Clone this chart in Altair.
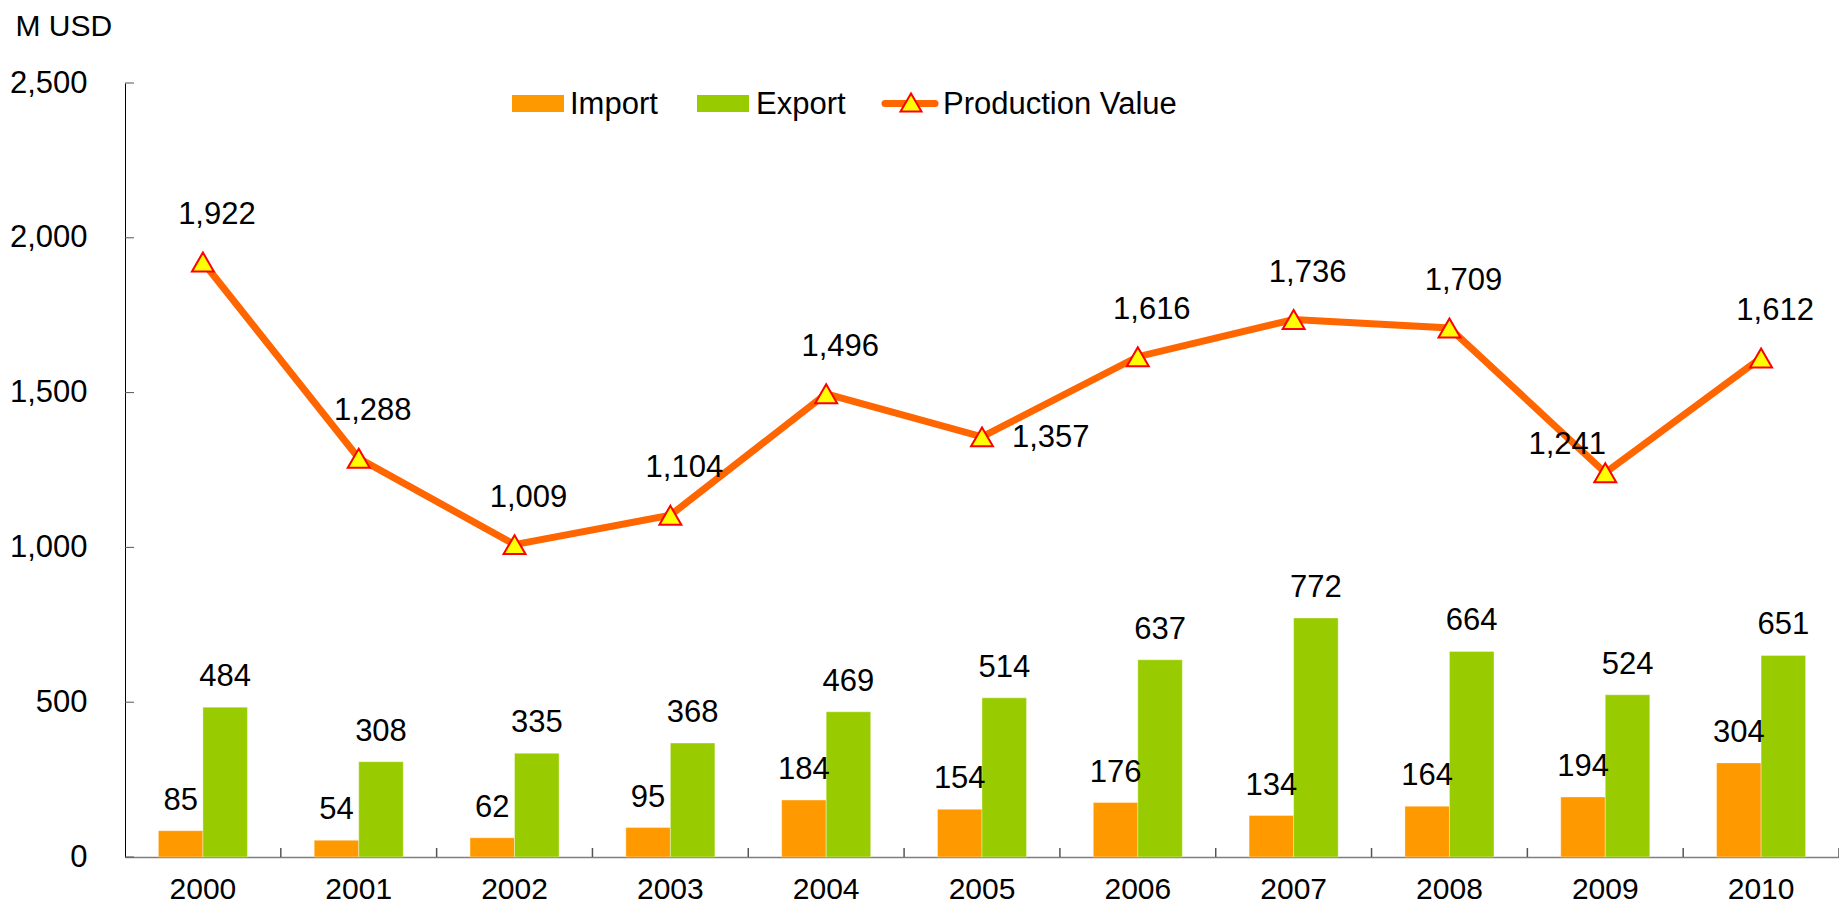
import altair as alt
import pandas as pd

# ---- data ----
years = ["2000", "2001", "2002", "2003", "2004", "2005", "2006", "2007", "2008", "2009", "2010"]
imports = [85, 54, 62, 95, 184, 154, 176, 134, 164, 194, 304]
exports = [484, 308, 335, 368, 469, 514, 637, 772, 664, 524, 651]
production = [1922, 1288, 1009, 1104, 1496, 1357, 1616, 1736, 1709, 1241, 1612]
series_names = ["Import", "Export"]
y_ticks = [0, 500, 1000, 1500, 2000, 2500]
legend_labels = ["Import", "Export", "Production Value"]

bars_df = pd.DataFrame({
    "year": years * 2,
    "series": [series_names[0]] * len(years) + [series_names[1]] * len(years),
    "value": imports + exports,
})
prod_df = pd.DataFrame({"year": years, "value": production})
ytick_df = pd.DataFrame({"value": y_ticks})
legend_df = pd.DataFrame({"label": legend_labels})

W, H = 1714, 774
FONT = "Liberation Sans"
FS = 31

c_import, c_export = "#FF9900", "#99CC00"
c_line = "#FF6600"

yscale = alt.Scale(domain=[0, 2500], nice=False, zero=True)
xscale = alt.Scale(paddingInner=0, paddingOuter=0)

x_axis = alt.Axis(title=None, labelAngle=0, ticks=False, tickSize=0, labelPadding=17,
                  labelBaseline="top", labelFontSize=30, labelFont=FONT, labelColor="black",
                  domainColor="#7f7f7f", domainWidth=1.5, grid=False)
y_axis = alt.Axis(values=y_ticks, labelExpr="format(datum.value, ',')", ticks=False, tickSize=0,
                  labelPadding=38,
                  labelFontSize=FS, labelFont=FONT, labelColor="black", grid=False,
                  domainColor="black", domainWidth=1,
                  title="M USD", titleAngle=0, titleAlign="left", titleBaseline="alphabetic",
                  titleX=-110, titleY=-48, titleFontSize=30, titleFont=FONT,
                  titleFontWeight="normal", titleColor="black")

x_enc = alt.X("year:N", scale=xscale, sort=years, axis=x_axis)
y_enc = alt.Y("value:Q", scale=yscale, axis=y_axis)
xoff = alt.XOffset("series:N", sort=series_names,
                   scale=alt.Scale(domain=series_names, paddingInner=0, paddingOuter=0.75))
color = alt.Color("series:N", scale=alt.Scale(domain=series_names, range=[c_import, c_export]),
                  legend=None)

bars = alt.Chart(bars_df).mark_bar(stroke="white", strokeWidth=0.6, strokeOpacity=0.6).encode(
    x=x_enc, y=y_enc, xOffset=xoff, color=color)

bar_labels = alt.Chart(bars_df).mark_text(
    dy=-30, baseline="middle", align="center", fontSize=FS, font=FONT, color="black"
).encode(x=x_enc, y=y_enc, xOffset=xoff, text=alt.Text("value:Q", format=","))

# inner ticks on y axis
y_tick_marks = alt.Chart(ytick_df).mark_rule(color="#555555", strokeWidth=1).encode(
    y=y_enc, x=alt.value(0), x2=alt.value(9))

# category boundary ticks on x axis (pointing up)
x_tick_marks = alt.Chart(prod_df).mark_rule(color="#555555", strokeWidth=1.5).encode(
    x=alt.X("year:N", scale=xscale, sort=years, bandPosition=1, axis=x_axis),
    y=alt.value(H), y2=alt.value(H - 9))

line = alt.Chart(prod_df).mark_line(color=c_line, strokeWidth=7).encode(
    x=x_enc, y=y_enc)
points = alt.Chart(prod_df).mark_point(
    shape="triangle-up", filled=True, fill="#FFFF00", stroke="#FF0000", strokeWidth=2,
    size=480, opacity=1
).encode(x=x_enc, y=y_enc)

txt = dict(baseline="middle", fontSize=FS, font=FONT, color="black")
lab_fmt = alt.Text("value:Q", format=",")
pl_above = alt.Chart(prod_df).transform_filter(
    "datum.year != '2005' && datum.year != '2009'"
).mark_text(dx=14, dy=-47, align="center", **txt).encode(x=x_enc, y=y_enc, text=lab_fmt)
pl_right = alt.Chart(prod_df).transform_filter("datum.year == '2005'").mark_text(
    dx=30, dy=1, align="left", **txt).encode(x=x_enc, y=y_enc, text=lab_fmt)
pl_left = alt.Chart(prod_df).transform_filter("datum.year == '2009'").mark_text(
    dx=-38, dy=-28, align="center", **txt).encode(x=x_enc, y=y_enc, text=lab_fmt)

# legend (drawn manually at the top of the plot)
LY = 20.5
LFS = 31
leg_imp_rect = alt.Chart(legend_df).transform_filter("datum.label == 'Import'").mark_rect(
    color=c_import).encode(x=alt.value(387), x2=alt.value(439), y=alt.value(LY - 8.5), y2=alt.value(LY + 8.5))
leg_exp_rect = alt.Chart(legend_df).transform_filter("datum.label == 'Export'").mark_rect(
    color=c_export).encode(x=alt.value(572), x2=alt.value(624), y=alt.value(LY - 8.5), y2=alt.value(LY + 8.5))
leg_line = alt.Chart(legend_df).transform_filter("datum.label == 'Production Value'").mark_rule(
    color=c_line, strokeWidth=7, strokeCap="round").encode(x=alt.value(760), x2=alt.value(810), y=alt.value(LY))
leg_pt = alt.Chart(legend_df).transform_filter("datum.label == 'Production Value'").mark_point(
    shape="triangle-up", filled=True, fill="#FFFF00", stroke="#FF0000", strokeWidth=2, size=440,
    opacity=1).encode(x=alt.value(786), y=alt.value(LY - 1))
leg_txt = dict(align="left", baseline="middle", fontSize=LFS, font=FONT, color="black")
leg_t1 = alt.Chart(legend_df).transform_filter("datum.label == 'Import'").mark_text(**leg_txt).encode(
    x=alt.value(445), y=alt.value(LY + 1), text="label:N")
leg_t2 = alt.Chart(legend_df).transform_filter("datum.label == 'Export'").mark_text(**leg_txt).encode(
    x=alt.value(631), y=alt.value(LY + 1), text="label:N")
leg_t3 = alt.Chart(legend_df).transform_filter("datum.label == 'Production Value'").mark_text(**leg_txt).encode(
    x=alt.value(818), y=alt.value(LY + 1), text="label:N")

chart = alt.layer(
    bars, bar_labels, y_tick_marks, x_tick_marks, line, points, pl_above, pl_right, pl_left,
    leg_imp_rect, leg_exp_rect, leg_line, leg_pt, leg_t1, leg_t2, leg_t3,
).properties(
    width=W, height=H,
    autosize=alt.AutoSizeParams(type="none"),
    padding={"left": 117, "top": 75, "right": 0, "bottom": 50},
    background="white",
).configure_view(stroke=None)

chart.save("out.html", embed_options={"renderer": "svg", "actions": False})
